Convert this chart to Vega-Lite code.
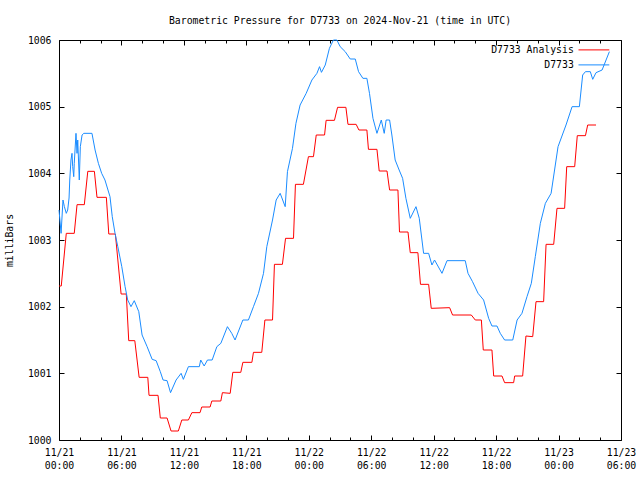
{
  "$schema": "https://vega.github.io/schema/vega-lite/v6.json",
  "width": 562,
  "height": 400,
  "autosize": {"type": "none"},
  "padding": {"left": 59, "top": 40, "right": 19, "bottom": 40},
  "background": "white",
  "title": {"text": "Barometric Pressure for D7733 on 2024-Nov-21 (time in UTC)", "font": "DejaVu Sans Mono", "fontSize": 9.8, "fontWeight": "normal", "color": "black", "anchor": "middle", "offset": 9},
  "config": {
    "view": {"stroke": "black", "strokeWidth": 1},
    "axis": {"grid": false, "domain": false, "labelFont": "DejaVu Sans Mono", "labelFontSize": 9.8, "labelColor": "black", "tickColor": "black", "tickWidth": 1, "titleFont": "DejaVu Sans Mono", "titleFontSize": 9.8, "titleFontWeight": "normal", "titleColor": "black"}
  },
  "data": {"values": [
    {"s":"D7733 Analysis","t":"2024-11-21T00:00:00Z","p":1002.31},
    {"s":"D7733 Analysis","t":"2024-11-21T00:13:00Z","p":1002.31},
    {"s":"D7733 Analysis","t":"2024-11-21T00:42:00Z","p":1003.10},
    {"s":"D7733 Analysis","t":"2024-11-21T01:28:00Z","p":1003.10},
    {"s":"D7733 Analysis","t":"2024-11-21T01:44:00Z","p":1003.53},
    {"s":"D7733 Analysis","t":"2024-11-21T02:26:00Z","p":1003.53},
    {"s":"D7733 Analysis","t":"2024-11-21T02:46:00Z","p":1004.03},
    {"s":"D7733 Analysis","t":"2024-11-21T03:24:00Z","p":1004.03},
    {"s":"D7733 Analysis","t":"2024-11-21T03:39:00Z","p":1003.64},
    {"s":"D7733 Analysis","t":"2024-11-21T04:33:00Z","p":1003.64},
    {"s":"D7733 Analysis","t":"2024-11-21T04:47:00Z","p":1003.09},
    {"s":"D7733 Analysis","t":"2024-11-21T05:25:00Z","p":1003.09},
    {"s":"D7733 Analysis","t":"2024-11-21T05:58:00Z","p":1002.19},
    {"s":"D7733 Analysis","t":"2024-11-21T06:28:00Z","p":1002.19},
    {"s":"D7733 Analysis","t":"2024-11-21T06:42:00Z","p":1001.49},
    {"s":"D7733 Analysis","t":"2024-11-21T07:17:00Z","p":1001.49},
    {"s":"D7733 Analysis","t":"2024-11-21T07:42:00Z","p":1000.94},
    {"s":"D7733 Analysis","t":"2024-11-21T08:32:00Z","p":1000.94},
    {"s":"D7733 Analysis","t":"2024-11-21T08:39:00Z","p":1000.67},
    {"s":"D7733 Analysis","t":"2024-11-21T09:31:00Z","p":1000.67},
    {"s":"D7733 Analysis","t":"2024-11-21T09:44:00Z","p":1000.33},
    {"s":"D7733 Analysis","t":"2024-11-21T10:23:00Z","p":1000.33},
    {"s":"D7733 Analysis","t":"2024-11-21T10:46:00Z","p":1000.135},
    {"s":"D7733 Analysis","t":"2024-11-21T11:28:00Z","p":1000.135},
    {"s":"D7733 Analysis","t":"2024-11-21T11:48:00Z","p":1000.30},
    {"s":"D7733 Analysis","t":"2024-11-21T12:26:00Z","p":1000.30},
    {"s":"D7733 Analysis","t":"2024-11-21T12:46:00Z","p":1000.41},
    {"s":"D7733 Analysis","t":"2024-11-21T13:33:00Z","p":1000.41},
    {"s":"D7733 Analysis","t":"2024-11-21T13:43:00Z","p":1000.495},
    {"s":"D7733 Analysis","t":"2024-11-21T14:31:00Z","p":1000.495},
    {"s":"D7733 Analysis","t":"2024-11-21T14:41:00Z","p":1000.585},
    {"s":"D7733 Analysis","t":"2024-11-21T15:33:00Z","p":1000.585},
    {"s":"D7733 Analysis","t":"2024-11-21T15:42:00Z","p":1000.71},
    {"s":"D7733 Analysis","t":"2024-11-21T16:27:00Z","p":1000.70},
    {"s":"D7733 Analysis","t":"2024-11-21T16:42:00Z","p":1001.015},
    {"s":"D7733 Analysis","t":"2024-11-21T17:28:00Z","p":1001.015},
    {"s":"D7733 Analysis","t":"2024-11-21T17:40:00Z","p":1001.165},
    {"s":"D7733 Analysis","t":"2024-11-21T18:32:00Z","p":1001.165},
    {"s":"D7733 Analysis","t":"2024-11-21T18:41:00Z","p":1001.315},
    {"s":"D7733 Analysis","t":"2024-11-21T19:29:00Z","p":1001.315},
    {"s":"D7733 Analysis","t":"2024-11-21T19:47:00Z","p":1001.80},
    {"s":"D7733 Analysis","t":"2024-11-21T20:31:00Z","p":1001.80},
    {"s":"D7733 Analysis","t":"2024-11-21T20:42:00Z","p":1002.635},
    {"s":"D7733 Analysis","t":"2024-11-21T21:28:00Z","p":1002.635},
    {"s":"D7733 Analysis","t":"2024-11-21T21:46:00Z","p":1003.025},
    {"s":"D7733 Analysis","t":"2024-11-21T22:32:00Z","p":1003.025},
    {"s":"D7733 Analysis","t":"2024-11-21T22:43:00Z","p":1003.835},
    {"s":"D7733 Analysis","t":"2024-11-21T23:29:00Z","p":1003.835},
    {"s":"D7733 Analysis","t":"2024-11-21T23:58:00Z","p":1004.25},
    {"s":"D7733 Analysis","t":"2024-11-22T00:27:00Z","p":1004.25},
    {"s":"D7733 Analysis","t":"2024-11-22T00:43:00Z","p":1004.575},
    {"s":"D7733 Analysis","t":"2024-11-22T01:31:00Z","p":1004.575},
    {"s":"D7733 Analysis","t":"2024-11-22T01:40:00Z","p":1004.795},
    {"s":"D7733 Analysis","t":"2024-11-22T02:28:00Z","p":1004.795},
    {"s":"D7733 Analysis","t":"2024-11-22T02:46:00Z","p":1004.99},
    {"s":"D7733 Analysis","t":"2024-11-22T03:34:00Z","p":1004.99},
    {"s":"D7733 Analysis","t":"2024-11-22T03:46:00Z","p":1004.735},
    {"s":"D7733 Analysis","t":"2024-11-22T04:33:00Z","p":1004.735},
    {"s":"D7733 Analysis","t":"2024-11-22T04:49:00Z","p":1004.65},
    {"s":"D7733 Analysis","t":"2024-11-22T05:35:00Z","p":1004.65},
    {"s":"D7733 Analysis","t":"2024-11-22T05:44:00Z","p":1004.36},
    {"s":"D7733 Analysis","t":"2024-11-22T06:33:00Z","p":1004.36},
    {"s":"D7733 Analysis","t":"2024-11-22T06:46:00Z","p":1004.035},
    {"s":"D7733 Analysis","t":"2024-11-22T07:31:00Z","p":1004.035},
    {"s":"D7733 Analysis","t":"2024-11-22T07:46:00Z","p":1003.75},
    {"s":"D7733 Analysis","t":"2024-11-22T08:34:00Z","p":1003.75},
    {"s":"D7733 Analysis","t":"2024-11-22T08:43:00Z","p":1003.12},
    {"s":"D7733 Analysis","t":"2024-11-22T09:32:00Z","p":1003.12},
    {"s":"D7733 Analysis","t":"2024-11-22T09:45:00Z","p":1002.81},
    {"s":"D7733 Analysis","t":"2024-11-22T10:29:00Z","p":1002.81},
    {"s":"D7733 Analysis","t":"2024-11-22T10:44:00Z","p":1002.335},
    {"s":"D7733 Analysis","t":"2024-11-22T11:31:00Z","p":1002.335},
    {"s":"D7733 Analysis","t":"2024-11-22T11:46:00Z","p":1001.975},
    {"s":"D7733 Analysis","t":"2024-11-22T13:32:00Z","p":1001.985},
    {"s":"D7733 Analysis","t":"2024-11-22T13:49:00Z","p":1001.875},
    {"s":"D7733 Analysis","t":"2024-11-22T15:37:00Z","p":1001.875},
    {"s":"D7733 Analysis","t":"2024-11-22T16:00:00Z","p":1001.80},
    {"s":"D7733 Analysis","t":"2024-11-22T16:35:00Z","p":1001.80},
    {"s":"D7733 Analysis","t":"2024-11-22T16:46:00Z","p":1001.35},
    {"s":"D7733 Analysis","t":"2024-11-22T17:36:00Z","p":1001.35},
    {"s":"D7733 Analysis","t":"2024-11-22T17:46:00Z","p":1000.96},
    {"s":"D7733 Analysis","t":"2024-11-22T18:34:00Z","p":1000.96},
    {"s":"D7733 Analysis","t":"2024-11-22T18:49:00Z","p":1000.86},
    {"s":"D7733 Analysis","t":"2024-11-22T19:41:00Z","p":1000.86},
    {"s":"D7733 Analysis","t":"2024-11-22T19:47:00Z","p":1000.96},
    {"s":"D7733 Analysis","t":"2024-11-22T20:33:00Z","p":1000.96},
    {"s":"D7733 Analysis","t":"2024-11-22T20:52:00Z","p":1001.56},
    {"s":"D7733 Analysis","t":"2024-11-22T21:31:00Z","p":1001.55},
    {"s":"D7733 Analysis","t":"2024-11-22T21:50:00Z","p":1002.075},
    {"s":"D7733 Analysis","t":"2024-11-22T22:34:00Z","p":1002.075},
    {"s":"D7733 Analysis","t":"2024-11-22T22:48:00Z","p":1002.935},
    {"s":"D7733 Analysis","t":"2024-11-22T23:32:00Z","p":1002.935},
    {"s":"D7733 Analysis","t":"2024-11-22T23:51:00Z","p":1003.475},
    {"s":"D7733 Analysis","t":"2024-11-23T00:35:00Z","p":1003.475},
    {"s":"D7733 Analysis","t":"2024-11-23T00:47:00Z","p":1004.10},
    {"s":"D7733 Analysis","t":"2024-11-23T01:33:00Z","p":1004.10},
    {"s":"D7733 Analysis","t":"2024-11-23T01:48:00Z","p":1004.565},
    {"s":"D7733 Analysis","t":"2024-11-23T02:35:00Z","p":1004.565},
    {"s":"D7733 Analysis","t":"2024-11-23T02:48:00Z","p":1004.725},
    {"s":"D7733 Analysis","t":"2024-11-23T03:36:00Z","p":1004.725},
    {"s":"D7733","t":"2024-11-21T00:00:00Z","p":1003.45},
    {"s":"D7733","t":"2024-11-21T00:12:00Z","p":1003.1},
    {"s":"D7733","t":"2024-11-21T00:23:00Z","p":1003.6},
    {"s":"D7733","t":"2024-11-21T00:31:00Z","p":1003.5},
    {"s":"D7733","t":"2024-11-21T00:42:00Z","p":1003.4},
    {"s":"D7733","t":"2024-11-21T00:50:00Z","p":1003.45},
    {"s":"D7733","t":"2024-11-21T00:58:00Z","p":1003.63},
    {"s":"D7733","t":"2024-11-21T01:02:00Z","p":1003.9},
    {"s":"D7733","t":"2024-11-21T01:09:00Z","p":1004.2},
    {"s":"D7733","t":"2024-11-21T01:15:00Z","p":1004.3},
    {"s":"D7733","t":"2024-11-21T01:19:00Z","p":1004.1},
    {"s":"D7733","t":"2024-11-21T01:25:00Z","p":1003.95},
    {"s":"D7733","t":"2024-11-21T01:28:00Z","p":1004.15},
    {"s":"D7733","t":"2024-11-21T01:38:00Z","p":1004.6},
    {"s":"D7733","t":"2024-11-21T01:44:00Z","p":1004.3},
    {"s":"D7733","t":"2024-11-21T01:48:00Z","p":1004.5},
    {"s":"D7733","t":"2024-11-21T01:57:00Z","p":1003.9},
    {"s":"D7733","t":"2024-11-21T02:03:00Z","p":1004.4},
    {"s":"D7733","t":"2024-11-21T02:13:00Z","p":1004.575},
    {"s":"D7733","t":"2024-11-21T02:23:00Z","p":1004.6},
    {"s":"D7733","t":"2024-11-21T03:10:00Z","p":1004.6},
    {"s":"D7733","t":"2024-11-21T03:28:00Z","p":1004.35},
    {"s":"D7733","t":"2024-11-21T03:47:00Z","p":1004.15},
    {"s":"D7733","t":"2024-11-21T04:06:00Z","p":1004.0},
    {"s":"D7733","t":"2024-11-21T04:25:00Z","p":1003.9},
    {"s":"D7733","t":"2024-11-21T04:54:00Z","p":1003.65},
    {"s":"D7733","t":"2024-11-21T05:07:00Z","p":1003.35},
    {"s":"D7733","t":"2024-11-21T05:23:00Z","p":1003.1},
    {"s":"D7733","t":"2024-11-21T05:39:00Z","p":1002.9},
    {"s":"D7733","t":"2024-11-21T06:02:00Z","p":1002.6},
    {"s":"D7733","t":"2024-11-21T06:21:00Z","p":1002.3},
    {"s":"D7733","t":"2024-11-21T06:36:00Z","p":1002.1},
    {"s":"D7733","t":"2024-11-21T06:55:00Z","p":1002.0},
    {"s":"D7733","t":"2024-11-21T07:14:00Z","p":1002.09},
    {"s":"D7733","t":"2024-11-21T07:40:00Z","p":1001.925},
    {"s":"D7733","t":"2024-11-21T07:59:00Z","p":1001.575},
    {"s":"D7733","t":"2024-11-21T08:28:00Z","p":1001.4},
    {"s":"D7733","t":"2024-11-21T08:57:00Z","p":1001.21},
    {"s":"D7733","t":"2024-11-21T09:20:00Z","p":1001.19},
    {"s":"D7733","t":"2024-11-21T09:44:00Z","p":1001.025},
    {"s":"D7733","t":"2024-11-21T10:00:00Z","p":1000.9},
    {"s":"D7733","t":"2024-11-21T10:23:00Z","p":1000.89},
    {"s":"D7733","t":"2024-11-21T10:43:00Z","p":1000.71},
    {"s":"D7733","t":"2024-11-21T11:15:00Z","p":1000.9},
    {"s":"D7733","t":"2024-11-21T11:44:00Z","p":1001.0},
    {"s":"D7733","t":"2024-11-21T11:57:00Z","p":1000.91},
    {"s":"D7733","t":"2024-11-21T12:26:00Z","p":1001.1},
    {"s":"D7733","t":"2024-11-21T13:29:00Z","p":1001.1},
    {"s":"D7733","t":"2024-11-21T13:37:00Z","p":1001.2},
    {"s":"D7733","t":"2024-11-21T13:57:00Z","p":1001.11},
    {"s":"D7733","t":"2024-11-21T14:16:00Z","p":1001.2},
    {"s":"D7733","t":"2024-11-21T14:43:00Z","p":1001.2},
    {"s":"D7733","t":"2024-11-21T15:10:00Z","p":1001.4},
    {"s":"D7733","t":"2024-11-21T15:33:00Z","p":1001.45},
    {"s":"D7733","t":"2024-11-21T16:11:00Z","p":1001.7},
    {"s":"D7733","t":"2024-11-21T16:36:00Z","p":1001.6},
    {"s":"D7733","t":"2024-11-21T16:55:00Z","p":1001.5},
    {"s":"D7733","t":"2024-11-21T17:40:00Z","p":1001.8},
    {"s":"D7733","t":"2024-11-21T18:12:00Z","p":1001.8},
    {"s":"D7733","t":"2024-11-21T18:41:00Z","p":1002.0},
    {"s":"D7733","t":"2024-11-21T19:10:00Z","p":1002.2},
    {"s":"D7733","t":"2024-11-21T19:39:00Z","p":1002.5},
    {"s":"D7733","t":"2024-11-21T19:58:00Z","p":1002.9},
    {"s":"D7733","t":"2024-11-21T20:31:00Z","p":1003.3},
    {"s":"D7733","t":"2024-11-21T20:52:00Z","p":1003.6},
    {"s":"D7733","t":"2024-11-21T21:15:00Z","p":1003.7},
    {"s":"D7733","t":"2024-11-21T21:44:00Z","p":1003.5},
    {"s":"D7733","t":"2024-11-21T21:57:00Z","p":1004.025},
    {"s":"D7733","t":"2024-11-21T22:26:00Z","p":1004.375},
    {"s":"D7733","t":"2024-11-21T22:46:00Z","p":1004.75},
    {"s":"D7733","t":"2024-11-21T23:10:00Z","p":1005.025},
    {"s":"D7733","t":"2024-11-21T23:45:00Z","p":1005.2},
    {"s":"D7733","t":"2024-11-22T00:18:00Z","p":1005.4},
    {"s":"D7733","t":"2024-11-22T00:47:00Z","p":1005.5},
    {"s":"D7733","t":"2024-11-22T01:02:00Z","p":1005.6},
    {"s":"D7733","t":"2024-11-22T01:13:00Z","p":1005.515},
    {"s":"D7733","t":"2024-11-22T01:35:00Z","p":1005.625},
    {"s":"D7733","t":"2024-11-22T01:59:00Z","p":1005.875},
    {"s":"D7733","t":"2024-11-22T02:22:00Z","p":1006.0},
    {"s":"D7733","t":"2024-11-22T02:42:00Z","p":1006.0},
    {"s":"D7733","t":"2024-11-22T03:01:00Z","p":1005.9},
    {"s":"D7733","t":"2024-11-22T03:30:00Z","p":1005.825},
    {"s":"D7733","t":"2024-11-22T03:59:00Z","p":1005.715},
    {"s":"D7733","t":"2024-11-22T04:28:00Z","p":1005.715},
    {"s":"D7733","t":"2024-11-22T04:47:00Z","p":1005.525},
    {"s":"D7733","t":"2024-11-22T05:12:00Z","p":1005.425},
    {"s":"D7733","t":"2024-11-22T05:35:00Z","p":1005.425},
    {"s":"D7733","t":"2024-11-22T05:50:00Z","p":1005.2},
    {"s":"D7733","t":"2024-11-22T06:10:00Z","p":1004.825},
    {"s":"D7733","t":"2024-11-22T06:33:00Z","p":1004.6},
    {"s":"D7733","t":"2024-11-22T06:58:00Z","p":1004.8},
    {"s":"D7733","t":"2024-11-22T07:15:00Z","p":1004.6},
    {"s":"D7733","t":"2024-11-22T07:26:00Z","p":1004.8},
    {"s":"D7733","t":"2024-11-22T07:46:00Z","p":1004.8},
    {"s":"D7733","t":"2024-11-22T07:59:00Z","p":1004.575},
    {"s":"D7733","t":"2024-11-22T08:18:00Z","p":1004.2},
    {"s":"D7733","t":"2024-11-22T08:41:00Z","p":1004.05},
    {"s":"D7733","t":"2024-11-22T09:01:00Z","p":1003.925},
    {"s":"D7733","t":"2024-11-22T09:20:00Z","p":1003.625},
    {"s":"D7733","t":"2024-11-22T09:45:00Z","p":1003.325},
    {"s":"D7733","t":"2024-11-22T10:18:00Z","p":1003.5},
    {"s":"D7733","t":"2024-11-22T10:37:00Z","p":1003.325},
    {"s":"D7733","t":"2024-11-22T11:02:00Z","p":1002.8},
    {"s":"D7733","t":"2024-11-22T11:31:00Z","p":1002.8},
    {"s":"D7733","t":"2024-11-22T11:50:00Z","p":1002.625},
    {"s":"D7733","t":"2024-11-22T12:05:00Z","p":1002.7},
    {"s":"D7733","t":"2024-11-22T12:48:00Z","p":1002.5},
    {"s":"D7733","t":"2024-11-22T13:17:00Z","p":1002.69},
    {"s":"D7733","t":"2024-11-22T15:02:00Z","p":1002.69},
    {"s":"D7733","t":"2024-11-22T15:18:00Z","p":1002.5},
    {"s":"D7733","t":"2024-11-22T15:44:00Z","p":1002.375},
    {"s":"D7733","t":"2024-11-22T16:16:00Z","p":1002.2},
    {"s":"D7733","t":"2024-11-22T16:48:00Z","p":1002.1},
    {"s":"D7733","t":"2024-11-22T17:17:00Z","p":1001.825},
    {"s":"D7733","t":"2024-11-22T17:36:00Z","p":1001.71},
    {"s":"D7733","t":"2024-11-22T18:05:00Z","p":1001.71},
    {"s":"D7733","t":"2024-11-22T18:24:00Z","p":1001.6},
    {"s":"D7733","t":"2024-11-22T18:49:00Z","p":1001.5},
    {"s":"D7733","t":"2024-11-22T19:36:00Z","p":1001.5},
    {"s":"D7733","t":"2024-11-22T20:01:00Z","p":1001.8},
    {"s":"D7733","t":"2024-11-22T20:29:00Z","p":1001.9},
    {"s":"D7733","t":"2024-11-22T20:58:00Z","p":1002.15},
    {"s":"D7733","t":"2024-11-22T21:23:00Z","p":1002.35},
    {"s":"D7733","t":"2024-11-22T21:46:00Z","p":1002.75},
    {"s":"D7733","t":"2024-11-22T22:15:00Z","p":1003.25},
    {"s":"D7733","t":"2024-11-22T22:44:00Z","p":1003.55},
    {"s":"D7733","t":"2024-11-22T23:17:00Z","p":1003.7},
    {"s":"D7733","t":"2024-11-22T23:37:00Z","p":1004.05},
    {"s":"D7733","t":"2024-11-22T23:57:00Z","p":1004.4},
    {"s":"D7733","t":"2024-11-23T00:43:00Z","p":1004.725},
    {"s":"D7733","t":"2024-11-23T01:18:00Z","p":1005.0},
    {"s":"D7733","t":"2024-11-23T02:00:00Z","p":1005.0},
    {"s":"D7733","t":"2024-11-23T02:19:00Z","p":1005.475},
    {"s":"D7733","t":"2024-11-23T02:35:00Z","p":1005.525},
    {"s":"D7733","t":"2024-11-23T03:03:00Z","p":1005.525},
    {"s":"D7733","t":"2024-11-23T03:17:00Z","p":1005.41},
    {"s":"D7733","t":"2024-11-23T03:36:00Z","p":1005.51},
    {"s":"D7733","t":"2024-11-23T04:11:00Z","p":1005.55},
    {"s":"D7733","t":"2024-11-23T04:53:00Z","p":1005.825}
  ]},
  "layer": [
    {
      "mark": {"type": "line", "strokeOpacity": 0},
      "encoding": {
        "x": {"field": "t", "type": "temporal",
          "scale": {"type": "utc", "domain": [1732147200000, 1732341600000], "nice": false},
          "axis": {"orient": "bottom", "values": [1732154400000, 1732161600000, 1732176000000, 1732183200000, 1732197600000, 1732204800000, 1732219200000, 1732226400000, 1732240800000, 1732248000000, 1732262400000, 1732269600000, 1732284000000, 1732291200000, 1732305600000, 1732312800000, 1732327200000, 1732334400000], "tickSize": -3, "labels": false, "title": null}},
        "y": {"field": "p", "type": "quantitative",
          "scale": {"domain": [1000, 1006], "zero": false, "nice": false}, "axis": null}
      }
    },
    {
      "mark": {"type": "line", "strokeOpacity": 0},
      "encoding": {
        "x": {"field": "t", "type": "temporal",
          "scale": {"type": "utc", "domain": [1732147200000, 1732341600000], "nice": false},
          "axis": {"orient": "top", "values": [1732154400000, 1732161600000, 1732176000000, 1732183200000, 1732197600000, 1732204800000, 1732219200000, 1732226400000, 1732240800000, 1732248000000, 1732262400000, 1732269600000, 1732284000000, 1732291200000, 1732305600000, 1732312800000, 1732327200000, 1732334400000], "tickSize": -3, "labels": false, "title": null}},
        "y": {"field": "p", "type": "quantitative",
          "scale": {"domain": [1000, 1006], "zero": false, "nice": false}, "axis": null}
      }
    },
    {
      "mark": {"type": "line", "strokeOpacity": 0},
      "encoding": {
        "x": {"field": "t", "type": "temporal",
          "scale": {"type": "utc", "domain": [1732147200000, 1732341600000], "nice": false},
          "axis": {"orient": "top", "values": [1732147200000, 1732168800000, 1732190400000, 1732212000000, 1732233600000, 1732255200000, 1732276800000, 1732298400000, 1732320000000, 1732341600000], "tickSize": -5, "labels": false, "title": null}},
        "y": {"field": "p", "type": "quantitative",
          "scale": {"domain": [1000, 1006], "zero": false, "nice": false},
          "axis": {"orient": "right", "values": [1000, 1001, 1002, 1003, 1004, 1005, 1006], "tickSize": -5, "labels": false, "title": null}}
      }
    },
    {
      "mark": {"type": "line", "strokeWidth": 1},
      "encoding": {
        "x": {"field": "t", "type": "temporal",
          "scale": {"type": "utc", "domain": [1732147200000, 1732341600000], "nice": false},
          "axis": {"orient": "bottom", "values": [1732147200000, 1732168800000, 1732190400000, 1732212000000, 1732233600000, 1732255200000, 1732276800000, 1732298400000, 1732320000000, 1732341600000], "tickSize": -5, "labelPadding": 12, "labelExpr": "[utcFormat(datum.value, '%m/%d'), utcFormat(datum.value, '%H:%M')]", "labelLineHeight": 13, "labelOverlap": false, "labelFlush": false, "labelBound": false, "labelAngle": 0, "labelBaseline": "top", "title": null}},
        "y": {"field": "p", "type": "quantitative",
          "scale": {"domain": [1000, 1006], "zero": false, "nice": false},
          "axis": {"orient": "left", "values": [1000, 1001, 1002, 1003, 1004, 1005, 1006], "format": "d", "tickSize": -5, "labelPadding": 13, "title": "milliBars", "titlePadding": 13}},
        "color": {"field": "s", "type": "nominal",
          "scale": {"domain": ["D7733 Analysis", "D7733"], "range": ["#ff0000", "#1a8cff"]},
          "legend": {"orient": "none", "legendX": 530, "legendY": 5, "title": null, "padding": 0, "symbolType": "M-4.4,0H4.4", "symbolSize": 49, "symbolStrokeWidth": 1, "labelAlign": "right", "labelOffset": -25, "rowPadding": 4, "labelFont": "DejaVu Sans Mono", "labelFontSize": 9.8, "labelColor": "black"}}
      }
    }
  ],
  "resolve": {"axis": {"x": "independent", "y": "independent"}}
}
